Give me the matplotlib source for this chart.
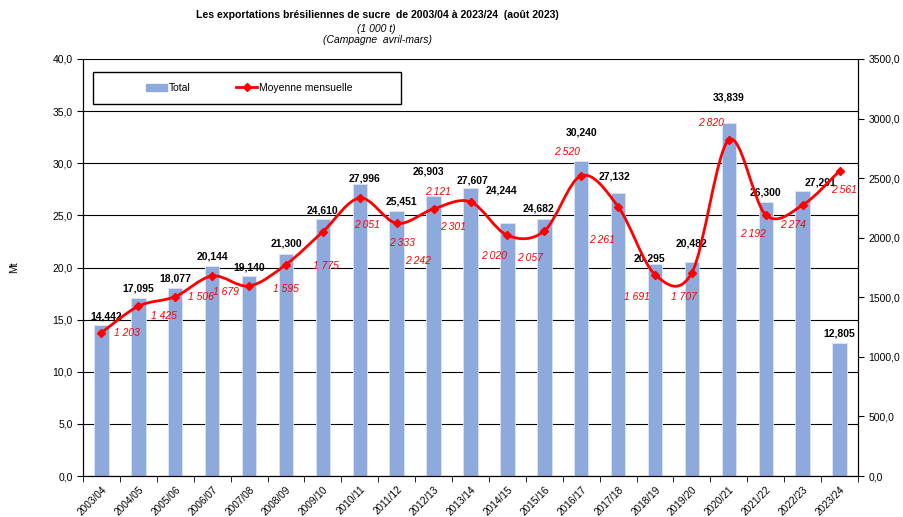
import matplotlib.pyplot as plt
import numpy as np
from matplotlib.path import Path
from matplotlib.patches import PathPatch, Patch, Rectangle
from matplotlib.lines import Line2D

plt.rcParams['font.family'] = ['Liberation Sans', 'DejaVu Sans']

campagnes = ['2003/04', '2004/05', '2005/06', '2006/07', '2007/08', '2008/09', '2009/10',
             '2010/11', '2011/12', '2012/13', '2013/14', '2014/15', '2015/16', '2016/17',
             '2017/18', '2018/19', '2019/20', '2020/21', '2021/22', '2022/23', '2023/24']
total = [14.442, 17.095, 18.077, 20.144, 19.140, 21.300, 24.610, 27.996, 25.451, 26.903,
         27.607, 24.244, 24.682, 30.240, 27.132, 20.295, 20.482, 33.839, 26.300, 27.291, 12.805]
moyenne = [1203, 1425, 1506, 1679, 1595, 1775, 2051, 2333, 2121, 2242,
           2301, 2020, 2057, 2520, 2261, 1691, 1707, 2820, 2192, 2274, 2561]

# label nudges in pixels (dx, dy) -- copied from the original layout
bar_lbl_off = [(5, 9), (0, 9), (0, 9), (0, 9), (0, 9), (0, 10), (0, 9), (5, 6), (5, 9), (-5, 24),
               (2, 8), (-6, 33), (-6, 10), (0, 28), (-4, 17), (-6, 6), (0, 19), (0, 26), (0, 9), (18, 9), (0, 9)]
moy_lbl_off = [(25, 0), (26, -10), (26, 0), (14, -16), (37, -3), (40, -1), (44, 7), (42, -45),
               (41, 31), (-16, -52), (-18, -25), (-13, -21), (-14, -27), (-14, 24), (-16, -33),
               (-18, -22), (-8, -24), (-18, 17), (-13, -19), (-10, -20), (4, -19)]

bar_color = '#8EA9DB'
x = np.arange(len(campagnes))

fig = plt.figure(figsize=(9.04, 5.17), dpi=100)
ax = fig.add_axes([83 / 904, 41 / 517, 775 / 904, 417 / 517])
ax2 = ax.twinx()

ax.bar(x, total, width=0.39, color=bar_color, edgecolor='#DCE6F5', linewidth=0.6, zorder=2)
ax.set_xlim(-0.5, len(x) - 0.5)
ax.set_ylim(0, 40)
ax.set_yticks(np.arange(0, 40.1, 5))
ax.set_yticklabels([f'{v:.1f}'.replace('.', ',') for v in np.arange(0, 40.1, 5)], fontsize=7.5)
ax.grid(axis='y', color='black', linewidth=0.8, zorder=0)
ax.set_axisbelow(True)
ax.set_ylabel('Mt', fontsize=7.5, labelpad=24)

ax.set_xticks(x)
ax.set_xticklabels(campagnes, rotation=45, ha='right', rotation_mode='anchor', fontsize=7.2)
ax.tick_params(axis='x', which='major', length=0, pad=6)
ax.set_xticks(np.arange(-0.5, len(x) - 0.4, 1), minor=True)
ax.tick_params(axis='x', which='minor', length=4, direction='out')
ax.tick_params(axis='y', length=4, direction='out')

ax.spines['top'].set_visible(False)
ax2.spines['top'].set_visible(False)

for i, v in enumerate(total):
    dx, dy = bar_lbl_off[i]
    ax.annotate(f'{v:.3f}'.replace('.', ','), xy=(i, v), xytext=(dx, dy),
                textcoords='offset pixels', ha='center', va='center',
                fontsize=7.5, fontweight='bold', color='black', zorder=3)

# smooth line (Excel-like bezier smoothing)
ax2.set_ylim(0, 3500)
pts = np.column_stack([x, moyenne]).astype(float)
ext = np.vstack([pts[0], pts, pts[-1]])
verts = [tuple(pts[0])]
codes = [Path.MOVETO]
for i in range(len(pts) - 1):
    p0, p1, p2, p3 = ext[i], ext[i + 1], ext[i + 2], ext[i + 3]
    c1 = p1 + (p2 - p0) / 6
    c2 = p2 - (p3 - p1) / 6
    verts += [tuple(c1), tuple(c2), tuple(p2)]
    codes += [Path.CURVE4] * 3
ax2.add_patch(PathPatch(Path(verts, codes), facecolor='none', edgecolor='red', linewidth=2, zorder=4))
ax2.plot(x, moyenne, linestyle='none', marker='D', markersize=4.5, color='red', zorder=5)

ax2.set_yticks(np.arange(0, 3501, 500))
ax2.set_yticklabels([f'{v:.1f}'.replace('.', ',') for v in np.arange(0, 3501, 500)], fontsize=7.5)
ax2.tick_params(axis='y', length=4, direction='out')

for i, v in enumerate(moyenne):
    dx, dy = moy_lbl_off[i]
    ax2.annotate(f'{v:,}'.replace(',', ' '), xy=(i, v), xytext=(dx, dy),
                 textcoords='offset pixels', ha='center', va='center',
                 fontsize=7.5, fontstyle='italic', color='red', zorder=6)

# legend box
ax2.add_patch(Rectangle((0.013, 0.892), 0.397, 0.077, transform=ax2.transAxes,
                        facecolor='white', edgecolor='black', linewidth=1, zorder=7))
handles = [Patch(color=bar_color), Line2D([], [], color='red', linewidth=2, marker='D', markersize=4)]
leg = ax2.legend(handles, ['Total', 'Moyenne mensuelle'], loc='center',
                 bbox_to_anchor=(0.016 + 0.397 / 2, 0.892 + 0.077 / 2), ncol=2,
                 fontsize=7.5, frameon=False, handlelength=2.0, handletextpad=0.15,
                 columnspacing=4.4)
leg.set_zorder(8)

fig.text(377 / 904, 1 - 15 / 517, 'Les exportations brésiliennes de sucre  de 2003/04 à 2023/24  (août 2023)',
         ha='center', va='center', fontsize=7.6, fontweight='bold')
fig.text(376 / 904, 1 - 29 / 517, '(1 000 t)', ha='center', va='center', fontsize=7.5, fontstyle='italic')
fig.text(378 / 904, 1 - 40 / 517, '(Campagne  avril-mars)', ha='center', va='center', fontsize=7.5, fontstyle='italic')

fig.savefig('out.png', dpi=100)
